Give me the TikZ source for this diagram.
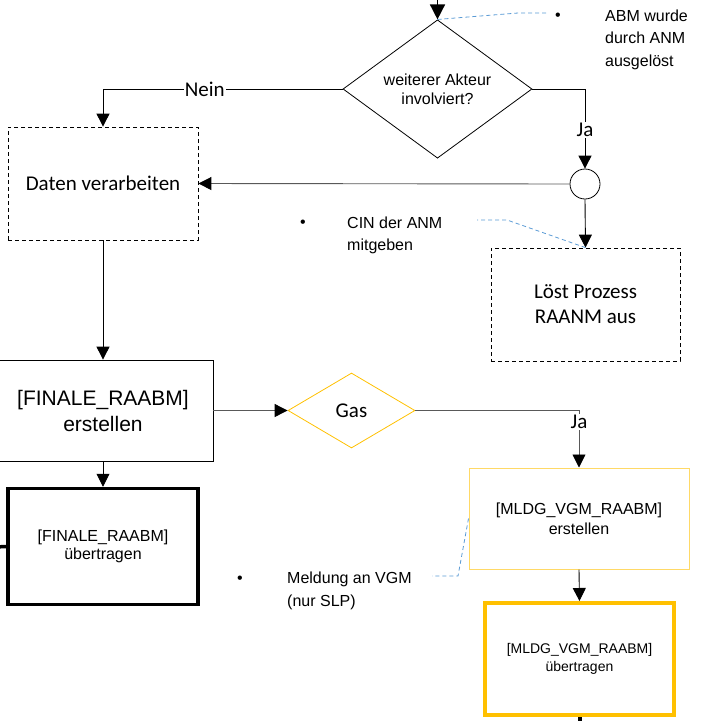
\documentclass[tikz,border=0pt]{standalone}
\usepackage{fontspec}
\setmainfont{Liberation Sans}
\newfontfamily\carl{Carlito}
\usetikzlibrary{arrows.meta,shapes.geometric}
\definecolor{gold}{HTML}{FFC000}
\definecolor{lgold}{HTML}{FFD966}
\definecolor{noteblue}{HTML}{5B9BD5}
\definecolor{dgray}{HTML}{595959}
\begin{document}
\begin{tikzpicture}[x=1pt,y=-1pt,
  arr/.style={draw=black, line width=0.9pt, -{Triangle[width=13pt,length=13pt,black]}},
  garr/.style={arr, draw=dgray},
  dbox/.style={draw=black, line width=0.8pt, dash pattern=on 4pt off 3pt, inner sep=0pt, align=center},
  pbox/.style={draw=black, line width=0.8pt, inner sep=0pt, align=center},
  carltxt/.style={font=\carl\fontsize{21}{25}\selectfont},
  smalltxt/.style={font=\fontsize{16}{19}\selectfont},
  notetxt/.style={font=\fontsize{16}{22.5}\selectfont, align=left, anchor=west, inner sep=0pt},
  bul/.style={font=\fontsize{16}{19}\selectfont, inner sep=0pt},
  note/.style={draw=noteblue, line width=0.8pt, dash pattern=on 4pt off 3pt},
  lbl/.style={carltxt, fill=white, inner sep=1pt}
]
\useasboundingbox (0,0) rectangle (702,721);
\clip (0,0) rectangle (702,721);

% nodes
\node[diamond, draw=black, line width=0.8pt, minimum width=189pt, minimum height=112pt, inner sep=0pt, align=center, smalltxt] (dia1) at (437.5,89) {weiterer Akteur\\involviert?};
\node[circle, draw=black, line width=0.8pt, minimum size=30pt, inner sep=0pt] (circ) at (585,184) {};
\node[dbox, carltxt, minimum width=190pt, minimum height=113pt] (daten) at (103,183.5) {Daten verarbeiten};
\node[dbox, carltxt, minimum width=189pt, minimum height=113pt] (loest) at (585.5,304.5) {Löst Prozess\\RAANM aus};
\node[pbox, font=\fontsize{21}{26}\selectfont, minimum width=220pt, minimum height=101pt] (finE) at (103,410.5) {[FINALE\_RAABM]\\erstellen};
\node[diamond, draw=gold, line width=0.8pt, minimum width=127pt, minimum height=75pt, inner sep=0pt, carltxt] (gas) at (351.5,410.5) {Gas};
\node[pbox, line width=3.5pt, minimum width=190pt, minimum height=116pt, font=\fontsize{16}{18}\selectfont] (finU) at (103,546.5) {[FINALE\_RAABM]\\übertragen};
\node[pbox, draw=lgold, line width=1pt, minimum width=220pt, minimum height=101pt, font=\fontsize{16}{20}\selectfont] (mE) at (579,518.5) {[MLDG\_VGM\_RAABM]\\erstellen};
\node[pbox, draw=gold, line width=4pt, minimum width=189pt, minimum height=112pt, font=\fontsize{14}{18}\selectfont] (mU) at (579.5,659) {[MLDG\_VGM\_RAABM]\\übertragen};

% annotations
\node[bul] (b1) at (558,17) {•};
\node[notetxt] (n1) at (605,39.5) {ABM wurde\\durch ANM\\ausgelöst};
\node[bul] (b2) at (303,224) {•};
\node[notetxt] (n2) at (347,235.5) {CIN der ANM\\mitgeben};
\node[bul] (b3) at (240,580) {•};
\node[notetxt] (n3) at (287,591) {Meldung an VGM\\(nur SLP)};

% free ends
\coordinate (top) at (437.5,-5);
\coordinate (lstub) at (-5,547);
\coordinate (bstub) at (579.5,726);
\coordinate (c1a) at (518,13);
\coordinate (c1b) at (547,13);
\coordinate (c2a) at (507,220);
\coordinate (c2b) at (477,220);
\coordinate (c3a) at (458,576);
\coordinate (c3b) at (432,576);

% connectors
\draw[arr, line width=1.5pt, -{Triangle[width=15pt,length=15pt,black]}] (top) -- (dia1.north);
\draw[arr] (dia1.east) -| (circ.north) node[lbl, pos=0.756] {Ja};
\draw[arr] (dia1.west) -| (daten.north) node[lbl, pos=0.2875] {Nein};
\draw[garr] (circ.west) -- (daten.east);
\draw[arr] (circ.south) -- (loest.north);
\draw[arr] (daten.south) -- (finE.north);
\draw[garr] (finE.east) -- (gas.west);
\draw[garr] (gas.east) -| (mE.north) node[lbl, pos=0.6] {Ja};
\draw[arr] (finE.south) -- (finU.north);
\draw[arr] (mE.south) -- (mU.north);
\draw[line width=3.5pt] (lstub) -- (finU.west);
\draw[line width=4pt] (mU.south) -- (bstub);

% note leaders
\draw[note] (dia1.north) -- (c1a) -- (c1b);
\draw[note] (loest.north) -- (c2a) -- (c2b);
\draw[note] (mE.west) -- (c3a) -- (c3b);
\end{tikzpicture}
\end{document}
